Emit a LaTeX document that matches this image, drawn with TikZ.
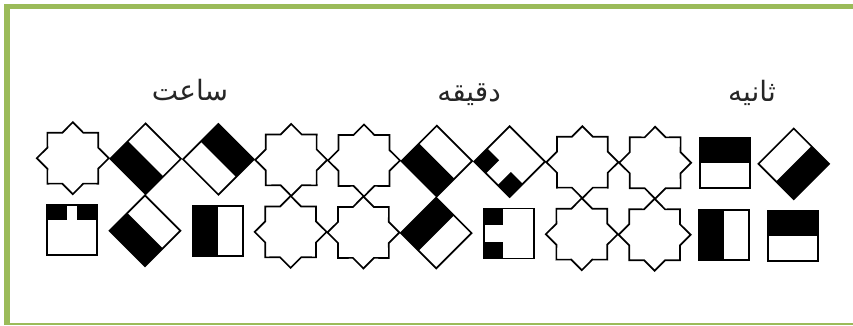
\documentclass[tikz,border=0pt]{standalone}
\usepackage{fontspec}
\newfontfamily\arabicfont[Script=Arabic]{DejaVu Sans}
\TeXXeTstate=1
\usepackage{xcolor}
\usepackage{tikz}
\definecolor{framegreen}{HTML}{9BBB59}

\begin{document}
\begin{tikzpicture}[x=1pt, y=-1pt,
  outline/.style={draw=black, line width=1.7pt, line join=miter},
  wordlabel/.style={font=\arabicfont\fontsize{28}{32}\selectfont, text=black!85, anchor=base, inner sep=0pt},
  pics/octastar/.style={code={\draw[outline] (0:36) \foreach \a in {22.5,67.5,...,337.5}{ -- (\a:27.5) -- ({\a+22.5}:36)} -- cycle;}},
  pics/tophalf/.style={code={\fill (-25,-25) rectangle (25,0); \draw[outline] (-25,-25) rectangle (25,25);}},
  pics/bottomhalf/.style={code={\fill (-25,0) rectangle (25,25); \draw[outline] (-25,-25) rectangle (25,25);}},
  pics/lefthalf/.style={code={\fill (-25,-25) rectangle (0,25); \draw[outline] (-25,-25) rectangle (25,25);}},
  pics/righthalf/.style={code={\fill (0,-25) rectangle (25,25); \draw[outline] (-25,-25) rectangle (25,25);}},
  pics/topgap/.style={code={\fill (-25,-25) rectangle (-5,-10); \fill (5,-25) rectangle (25,-10); \draw[outline] (-25,-25) rectangle (25,25);}},
  pics/leftgap/.style={code={\fill (-25,-25) rectangle (-6.5,-8.3); \fill (-25,8.3) rectangle (-6.5,25); \draw[outline] (-25,-25) rectangle (25,25);}}]
  \useasboundingbox (0,0) rectangle (853,326);
  % frame
  \fill[framegreen] (4,4) rectangle (853,9);
  \fill[framegreen] (4,4) rectangle (10,325);
  \fill[framegreen] (4,322.5) rectangle (853,325);
  % words
  \node[wordlabel] (hour) at (190,101) {\beginR ساعت\endR};
  \node[wordlabel] (minute) at (469,102) {\beginR دقیقه\endR};
  \node[wordlabel] (second) at (752,102) {\beginR ثانیه\endR};
  \begin{scope}[rotate around={-0.45:(430,197)}]
    % stars
    \pic at (72.5,161) {octastar};
    \foreach \x in {290.9,363.7,582.1,654.9} {\pic at (\x,161) {octastar}; \pic at (\x,233) {octastar};}
    % row 1
    \pic[rotate=45] at (145.3,161) {lefthalf};
    \pic[rotate=45] at (218.1,161) {righthalf};
    \pic[rotate=45] at (436.5,161) {lefthalf};
    \pic[rotate=45] at (509.3,161) {leftgap};
    \pic at (724.5,161) {tophalf};
    \pic[rotate=45] at (793.5,161) {bottomhalf};
    % row 2
    \pic at (72.5,233) {topgap};
    \pic[rotate=45] at (145.3,233) {lefthalf};
    \pic at (218.1,233) {lefthalf};
    \pic[rotate=45] at (436.5,233) {tophalf};
    \pic at (509.3,233) {leftgap};
    \pic at (724.5,233) {lefthalf};
    \pic at (793.5,233) {tophalf};
  \end{scope}
\end{tikzpicture}
\end{document}
